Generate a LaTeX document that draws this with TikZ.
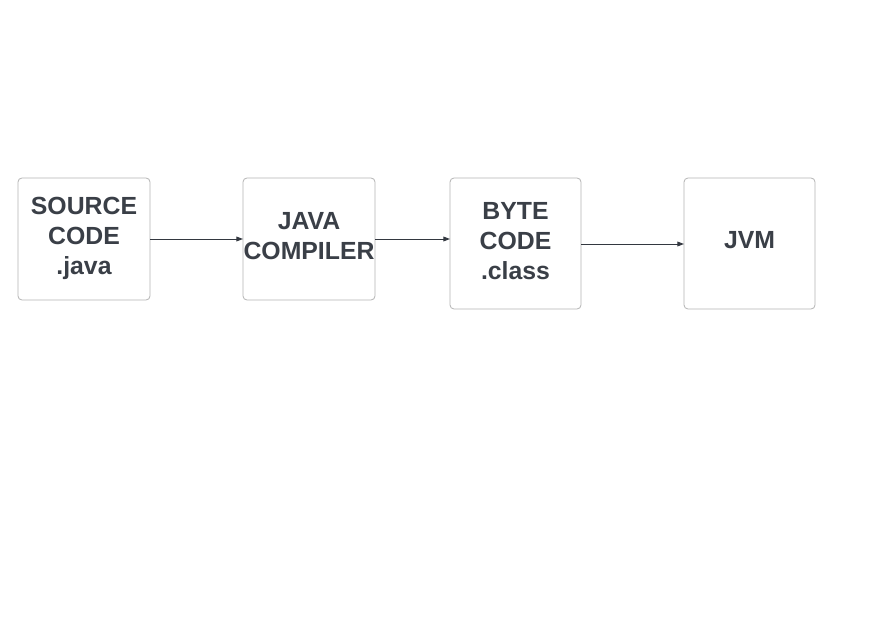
\documentclass[tikz,border=0pt]{standalone}
\usepackage{fontspec}
\setmainfont{Liberation Sans}
\usetikzlibrary{arrows.meta}
\definecolor{txt}{HTML}{3A3F47}
\definecolor{edge}{HTML}{B4B4B4}
\definecolor{arr}{HTML}{333840}
\begin{document}
\begin{tikzpicture}[x=0.75pt,y=-0.75pt,
  box/.style={draw=edge, line width=0.6pt, rounded corners=3pt},
  lbl/.style={text=txt, font=\fontsize{18.6}{22.5}\selectfont\bfseries, align=center, inner sep=0pt},
  conn/.style={draw=arr, line width=0.7pt, -{Triangle[length=5pt,width=3.6pt]}}]
\useasboundingbox (0,0) rectangle (877,620);
\fill[white] (0,0) rectangle (877,620);
\draw[box] (18,178) rectangle (150,300);
\draw[box] (243,178) rectangle (375,300);
\draw[box] (450,178) rectangle (581,309);
\draw[box] (684,178) rectangle (815,309);
\node[lbl] (a) at (84,238) {SOURCE\\CODE\\.java};
\node[lbl] (b) at (309,236) {JAVA\\COMPILER};
\node[lbl] (c) at (515.5,241) {BYTE\\CODE\\.class};
\node[lbl] (d) at (749.5,240.5) {JVM};
\coordinate (a1) at (150,239);
\coordinate (b0) at (243,239);
\coordinate (b1) at (375,239);
\coordinate (c0) at (450,239);
\coordinate (c1) at (581,244);
\coordinate (d0) at (684,244);
\draw[conn] (a1) -- (b0);
\draw[conn] (b1) -- (c0);
\draw[conn] (c1) -- (d0);
\end{tikzpicture}
\end{document}
